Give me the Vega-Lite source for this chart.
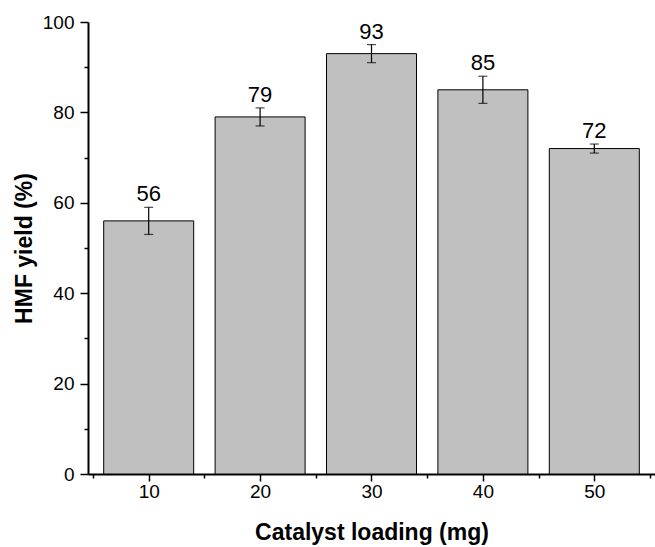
{
  "$schema": "https://vega.github.io/schema/vega-lite/v6.json",
  "autosize": "none",
  "width": 567,
  "height": 452,
  "padding": {"left": 88, "top": 22, "right": 0, "bottom": 73},
  "background": "white",
  "config": {
    "view": {"stroke": null},
    "font": "Liberation Sans",
    "axis": {
      "domainColor": "black",
      "domainWidth": 2,
      "tickColor": "black",
      "tickWidth": 1.5,
      "labelColor": "black",
      "titleColor": "black",
      "labelFont": "Liberation Sans",
      "titleFont": "Liberation Sans",
      "labelFontSize": 19,
      "titleFontSize": 23,
      "titleFontWeight": "bold",
      "grid": false
    }
  },
  "data": {
    "values": [
      {"loading": 10, "yield": 56, "lo": 53, "hi": 59},
      {"loading": 20, "yield": 79, "lo": 77, "hi": 81},
      {"loading": 30, "yield": 93, "lo": 91, "hi": 95},
      {"loading": 40, "yield": 85, "lo": 82, "hi": 88},
      {"loading": 50, "yield": 72, "lo": 71, "hi": 73}
    ]
  },
  "layer": [
    {
      "mark": {"type": "bar", "width": 90, "fill": "#c0c0c0", "stroke": "black", "strokeWidth": 1},
      "encoding": {
        "x": {
          "field": "loading", "type": "quantitative",
          "scale": {"domain": [5, 55], "nice": false, "zero": false},
          "axis": {
            "title": "Catalyst loading (mg)",
            "values": [5, 10, 15, 20, 25, 30, 35, 40, 45, 50, 55],
            "labelExpr": "datum.value % 10 === 0 ? datum.label : ''",
            "tickSize": {"condition": {"test": "datum.value % 10 === 0", "value": 7}, "value": 4},
            "labelPadding": 1,
            "titlePadding": 20,
            "labelFlush": false,
            "labelOverlap": false
          }
        },
        "y": {
          "field": "yield", "type": "quantitative",
          "scale": {"domain": [0, 100], "nice": false},
          "axis": {
            "title": "HMF yield (%)",
            "values": [0, 10, 20, 30, 40, 50, 60, 70, 80, 90, 100],
            "labelExpr": "datum.value % 20 === 0 ? datum.label : ''",
            "tickSize": {"condition": {"test": "datum.value % 20 === 0", "value": 8}, "value": 4},
            "labelPadding": 6,
            "titlePadding": 6,
            "labelFlush": false,
            "labelOverlap": false
          }
        }
      }
    },
    {
      "mark": {"type": "rule", "color": "black", "strokeWidth": 1.2},
      "encoding": {
        "x": {"field": "loading", "type": "quantitative"},
        "y": {"field": "lo", "type": "quantitative"},
        "y2": {"field": "hi"}
      }
    },
    {
      "mark": {"type": "tick", "orient": "horizontal", "size": 9, "thickness": 1.2, "color": "black"},
      "encoding": {
        "x": {"field": "loading", "type": "quantitative"},
        "y": {"field": "lo", "type": "quantitative"}
      }
    },
    {
      "mark": {"type": "tick", "orient": "horizontal", "size": 9, "thickness": 1.2, "color": "black"},
      "encoding": {
        "x": {"field": "loading", "type": "quantitative"},
        "y": {"field": "hi", "type": "quantitative"}
      }
    },
    {
      "mark": {"type": "text", "fontSize": 22, "baseline": "alphabetic", "dy": -6, "color": "black", "font": "Liberation Sans"},
      "encoding": {
        "x": {"field": "loading", "type": "quantitative"},
        "y": {"field": "hi", "type": "quantitative"},
        "text": {"field": "yield", "type": "quantitative"}
      }
    }
  ]
}
